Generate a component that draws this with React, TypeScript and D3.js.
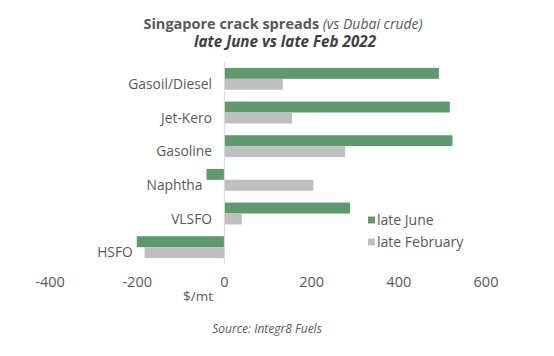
import React from "react";
import * as d3 from "d3";

const categories = ["Gasoil/Diesel", "Jet-Kero", "Gasoline", "Naphtha", "VLSFO", "HSFO"];
const lateJune = [492, 517, 523, -41, 288, -201];
const lateFebruary = [134, 155, 277, 204, 40, -183];
const seriesNames = ["late June", "late February"];
const xTicks = [-400, -200, 0, 200, 400, 600];

const W = 554;
const H = 356;
const GREEN = "#5f9a6e";
const GRAY = "#bfbfbf";
const TXT = "#595959";
const FONT = "'Open Sans', 'DejaVu Sans', sans-serif";

export default function App() {
  const x = d3.scaleLinear().domain([-400, 600]).range([50, 486]);
  const y = d3.scaleBand<string>().domain(categories).range([62, 264]).paddingInner(0.35).paddingOuter(0.175);
  const inner = d3.scaleBand<string>().domain(seriesNames).range([0, y.bandwidth()]);
  const series = [lateJune, lateFebruary];
  const colors = [GREEN, GRAY];

  return (
    <svg width={W} height={H} style={{ position: "absolute", left: 0, top: 0, background: "#fff" }} fontFamily={FONT}>
      <rect x={0} y={0} width={W} height={H} fill="#fff" />
      <text x={283} y={29} textAnchor="middle" fontSize={14.5} fill={TXT}>
        <tspan fontWeight="bold">Singapore crack spreads </tspan>
        <tspan fontStyle="italic" fontSize={14}>(vs Dubai crude)</tspan>
      </text>
      <text x={285} y={47} textAnchor="middle" fontSize={15.2} fill={"#404040"} fontWeight="bold" fontStyle="italic">
        late June vs late Feb 2022
      </text>

      {series.map((vals, si) =>
        categories.map((c, i) => {
          const v = vals[i];
          const x0 = x(Math.min(0, v));
          const x1 = x(Math.max(0, v));
          return (
            <rect
              key={`${si}-${i}`}
              x={x0}
              y={(y(c) as number) + (inner(seriesNames[si]) as number)}
              width={x1 - x0}
              height={inner.bandwidth()}
              fill={colors[si]}
            />
          );
        })
      )}

      <line x1={x(0)} x2={x(0)} y1={62} y2={264} stroke="#d9d9d9" strokeWidth={1} />

      {categories.map((c, i) => {
        const minV = Math.min(0, lateJune[i], lateFebruary[i]);
        const lx = Math.min(212, x(minV) - 4);
        return (
          <text
            key={c}
            x={lx}
            y={(y(c) as number) + y.bandwidth() * 0.75}
            dy="0.35em"
            textAnchor="end"
            fontSize={13.8}
            fill={TXT}
          >
            {c}
          </text>
        );
      })}

      {xTicks.map((t) => (
        <text key={t} x={x(t)} y={282} dy="0.35em" textAnchor="middle" fontSize={14.5} fill={TXT}>
          {t}
        </text>
      ))}
      <text x={198} y={296} dy="0.35em" textAnchor="middle" fontSize={13.5} fill={TXT}>
        $/mt
      </text>

      {seriesNames.map((s, i) => (
        <g key={s} transform={`translate(368, ${220 + i * 22})`}>
          <rect x={0} y={-3.5} width={7} height={7} fill={colors[i]} />
          <text x={9} y={0} dy="0.35em" fontSize={14} fill={TXT}>
            {s}
          </text>
        </g>
      ))}

      <text x={267} y={329} dy="0.35em" textAnchor="middle" fontSize={12} fontStyle="italic" fill={TXT}>
        Source: Integr8 Fuels
      </text>
    </svg>
  );
}
